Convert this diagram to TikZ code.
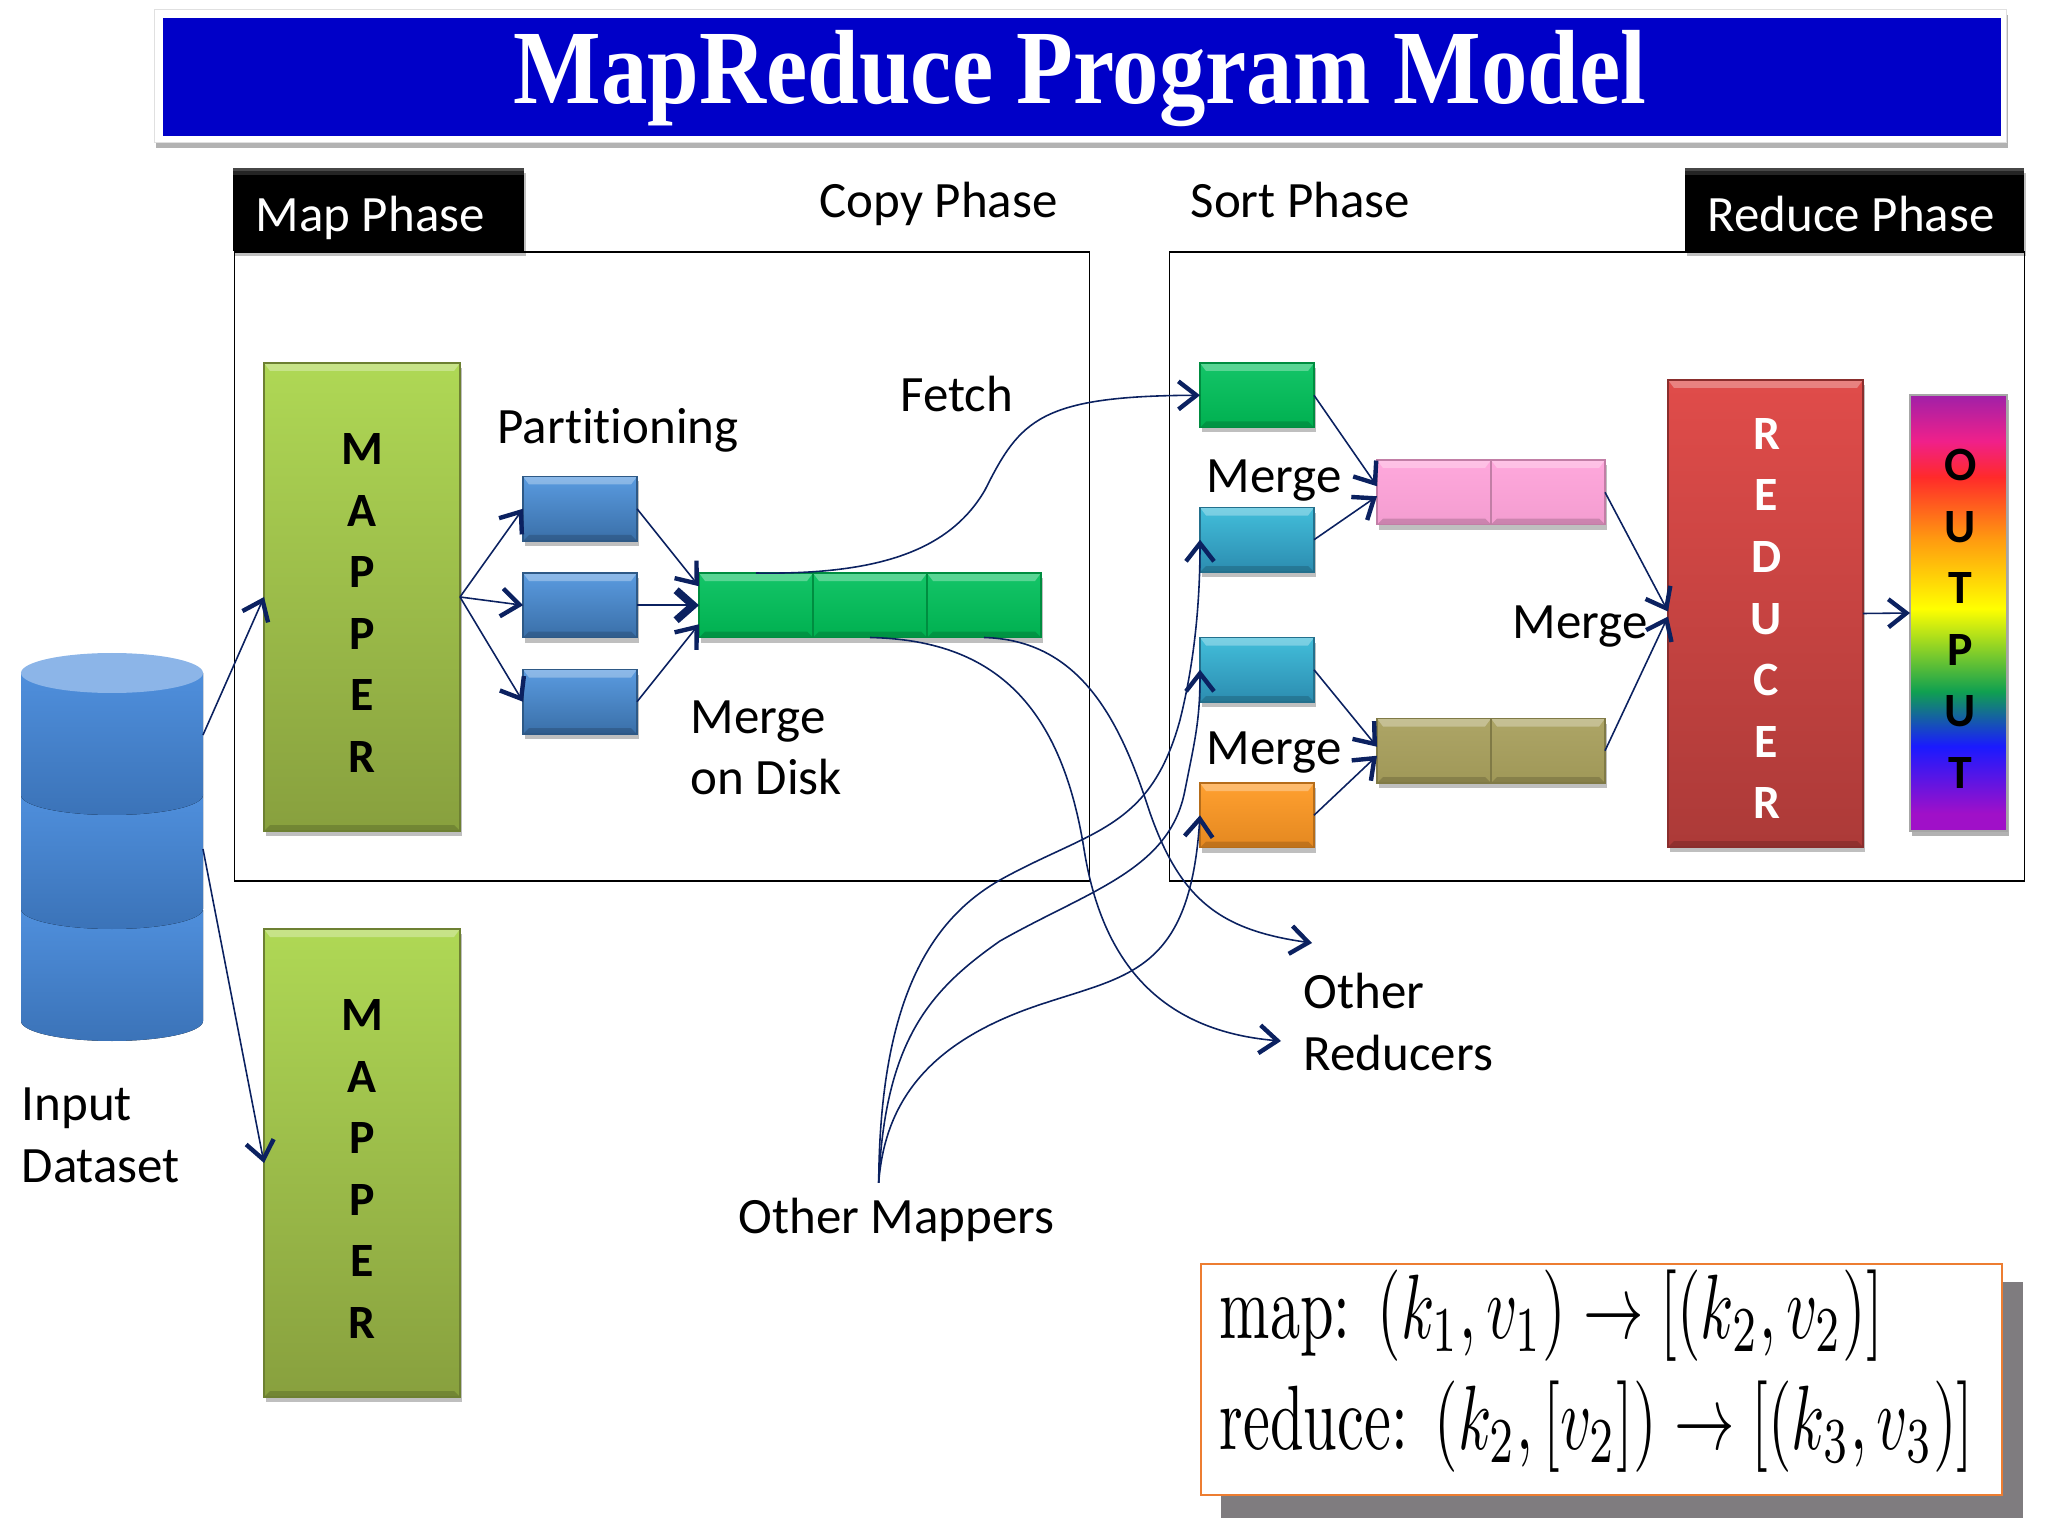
\documentclass[tikz,border=0pt]{standalone}
\usepackage{fontspec}
\setsansfont[Ligatures=NoCommon]{Carlito}
\newfontfamily\titlefont{Liberation Serif}
\usetikzlibrary{
	arrows.meta,shadows,positioning,calc
}
\definecolor{flownavy}{HTML}{0B2160}
\definecolor{rbbottom}{HTML}{A010C8}
\definecolor{rbblue}{HTML}{1A1AFF}
\definecolor{rbgreen}{HTML}{10A050}
\definecolor{rbyellow}{HTML}{FFFF00}
\definecolor{rborange}{HTML}{FF9A10}
\definecolor{rbred}{HTML}{FF2A2A}
\definecolor{rbpink}{HTML}{F0208A}
\definecolor{rbtop}{HTML}{A020A8}
\definecolor{mapA}{HTML}{AFD855}
\definecolor{mapB}{HTML}{88A03E}
\definecolor{partA}{HTML}{5A9BE0}
\definecolor{partB}{HTML}{3A6FA8}
\definecolor{dbA}{HTML}{4F8FDC}
\definecolor{dbB}{HTML}{3B73B8}
\definecolor{dbtop}{HTML}{8CB5E8}
\definecolor{greenA}{HTML}{14C568}
\definecolor{greenB}{HTML}{00B050}
\definecolor{cyanA}{HTML}{42BEDA}
\definecolor{cyanB}{HTML}{2C8CB0}
\definecolor{orangeA}{HTML}{FFA030}
\definecolor{orangeB}{HTML}{E48820}
\definecolor{pinkA}{HTML}{FFA8DC}
\definecolor{pinkB}{HTML}{F39DD0}
\definecolor{oliveA}{HTML}{ADA566}
\definecolor{oliveB}{HTML}{A09858}
\definecolor{redA}{HTML}{E04C4A}
\definecolor{redB}{HTML}{AC3A38}
\definecolor{titleblue}{HTML}{0000C8}
\definecolor{formulashade}{HTML}{7F7C7F}
\definecolor{formulaline}{HTML}{ED7D31}
\pgfdeclareverticalshading{rainbowband}{100bp}{
	color(0bp)=(rbbottom); color(27bp)=(rbbottom); color(34.7bp)=(rbblue); color(41bp)=(rbgreen);
	color(50.5bp)=(rbyellow); color(58.5bp)=(rborange); color(65.6bp)=(rbred); color(69.7bp)=(rbpink);
	color(75bp)=(rbtop); color(100bp)=(rbtop)
}
\tikzset{
	bevelbox/.style n args={2}{
		rectangle, inner sep=0pt, outer sep=0pt, line width=.3pt,
		draw=#2!80!black, top color=#1, bottom color=#2,
		drop shadow={shadow xshift=.02cm, shadow yshift=-.05cm, opacity=.25, fill=black},
		path picture={
			\fill[white, opacity=.3] (path picture bounding box.north west) -- (path picture bounding box.north east)
				-- ($(path picture bounding box.north east)+(-.06,-.08)$) -- ($(path picture bounding box.north west)+(.06,-.08)$) -- cycle;
			\fill[black, opacity=.16] (path picture bounding box.south west) -- (path picture bounding box.south east)
				-- ($(path picture bounding box.south east)+(-.06,.06)$) -- ($(path picture bounding box.south west)+(.06,.06)$) -- cycle;
		}
	},
	%
	mapbox/.style={
		bevelbox={mapA}{mapB}, minimum width=1.96cm, minimum height=4.68cm
	},
	%
	partbox/.style={
		bevelbox={partA}{partB}, minimum width=1.14cm, minimum height=.645cm
	},
	%
	cellbox/.style n args={2}{
		bevelbox={#1}{#2}, minimum width=1.14cm, minimum height=.645cm
	},
	%
	blackbox/.style={
		rectangle, inner sep=0pt, outer sep=0pt, fill=black, minimum height=.83cm,
		drop shadow={shadow xshift=.02cm, shadow yshift=-.05cm, opacity=.25, fill=black},
		path picture={
			\fill[black!72] (path picture bounding box.north west) rectangle ($(path picture bounding box.north east)+(0,-.03)$);
			\fill[black!86] ($(path picture bounding box.north west)+(0,-.03)$) rectangle ($(path picture bounding box.north east)+(0,-.07)$);
		}
	},
	%
	phaseframe/.style={
		rectangle, inner sep=0pt, draw=black, line width=.45pt, minimum height=6.29cm
	},
	%
	caption/.style={
		anchor=base west, inner sep=0pt, font=\sffamily\fontsize{14.5}{17.45}\selectfont, align=left
	},
	%
	letters/.style={
		inner sep=0pt, align=center, font=\sffamily\bfseries\fontsize{13.6}{17.5}\selectfont
	},
	%
	flow/.style={
		-{Straight Barb[length=.18cm, width=.28cm, line width=1.25pt]}, draw=flownavy, line width=.45pt
	},
	%
	heavyflow/.style={
		-{Straight Barb[length=.17cm, width=.3cm, line width=2.2pt]}, draw=flownavy, line width=.45pt
	},
	%
	dbpart/.style={
		top color=dbA, bottom color=dbB
	}
}
\begin{document}
\begin{tikzpicture}
    \useasboundingbox (0,0) rectangle (20.48,-15.36);
    \node(titleframe)[rectangle, anchor=north west, inner sep=0pt, fill=white, draw=black!12, minimum width=18.52cm, minimum height=1.33cm, drop shadow={shadow xshift=.01cm, shadow yshift=-.05cm, opacity=.3, fill=black}] at (1.54,-.09){};
    \node(titlebar)[rectangle, anchor=north west, inner sep=0pt, fill=titleblue, minimum width=18.38cm, minimum height=1.18cm] at (1.62,-.17){};
    \node(titletext)[anchor=base, inner sep=0pt, text=white, font=\titlefont\bfseries\fontsize{30}{34}\selectfont] at (10.8,-1.04){\scalebox{.88}[1]{MapReduce Program Model}};

    \node(mapframe)[phaseframe, anchor=north west, minimum width=8.55cm] at (2.335,-2.51){};
    \node(sortframe)[phaseframe, anchor=north west, minimum width=8.55cm] at (11.685,-2.51){};
    \node(mapphase)[blackbox, anchor=north west, minimum width=2.91cm] at (2.33,-1.68){};
    \node(reducephase)[blackbox, anchor=north west, minimum width=3.395cm] at (16.845,-1.68){};
    \node(maplabel)[caption, text=white] at (2.55,-2.32){Map Phase};
    \node(reducelabel)[caption, text=white] at (17.07,-2.32){Reduce Phase};
    \node(copylabel)[caption] at (8.19,-2.18){Copy Phase};
    \node(sortlabel)[caption] at (11.9,-2.18){Sort Phase};

    \fill[dbpart] (.21,-9.1) -- (.21,-10.21) arc[start angle=180, end angle=360, x radius=.91, y radius=.2] -- (2.03,-9.1) -- cycle;
    \fill[dbpart] (.21,-7.95) -- (.21,-9.09) arc[start angle=180, end angle=360, x radius=.91, y radius=.2] -- (2.03,-7.95) -- cycle;
    \fill[dbpart] (.21,-6.73) -- (.21,-7.95) arc[start angle=180, end angle=360, x radius=.91, y radius=.2] -- (2.03,-6.73) -- cycle;
    \fill[dbtop] (1.12,-6.73) ellipse[x radius=.91, y radius=.2];
    \coordinate(dbupper) at (2.03,-7.35);
    \coordinate(dblower) at (2.03,-8.49);
    \node(inputlabel)[caption] at (.21,-11.82){Input\\Dataset};

    \node(mapone)[mapbox, anchor=north west] at (2.64,-3.63){};
    \node(maponetext)[letters] at ($(mapone.center)+(0,-.06)$){M\\A\\P\\P\\E\\R};
    \node(maptwo)[mapbox, below=.98cm of mapone]{};
    \node(maptwotext)[letters] at ($(maptwo.center)+(0,-.06)$){M\\A\\P\\P\\E\\R};
    \node(partlabel)[caption] at (4.97,-4.44){Partitioning};

    \node(blueone)[partbox, anchor=north west] at (5.23,-4.765){};
    \node(bluetwo)[partbox, below=.32cm of blueone]{};
    \node(bluethree)[partbox, below=.32cm of bluetwo]{};
    \node(greenone)[cellbox={greenA}{greenB}, right=.62cm of bluetwo]{};
    \node(greentwo)[cellbox={greenA}{greenB}, right=0cm of greenone]{};
    \node(greenthree)[cellbox={greenA}{greenB}, right=0cm of greentwo]{};
    \node(fetchlabel)[caption] at (9.0,-4.12){Fetch};
    \node(disklabel)[caption] at (6.9,-7.95){Merge\\on Disk};

    \node(sortgreen)[cellbox={greenA}{greenB}, anchor=north west] at (12,-3.63){};
    \node(cyanone)[cellbox={cyanA}{cyanB}, below=.8cm of sortgreen]{};
    \node(cyantwo)[cellbox={cyanA}{cyanB}, below=.655cm of cyanone]{};
    \node(orangebox)[cellbox={orangeA}{orangeB}, below=.81cm of cyantwo]{};
    \node(pinkone)[cellbox={pinkA}{pinkB}, anchor=north west] at (13.77,-4.6){};
    \node(pinktwo)[cellbox={pinkA}{pinkB}, right=0cm of pinkone]{};
    \node(oliveone)[cellbox={oliveA}{oliveB}, below=1.94cm of pinkone]{};
    \node(olivetwo)[cellbox={oliveA}{oliveB}, right=0cm of oliveone]{};
    \node(mergeone)[caption] at (12.06,-4.93){Merge};
    \node(mergetwo)[caption] at (12.06,-7.65){Merge};
    \node(mergethree)[caption] at (15.12,-6.38){Merge};

    \node(reducer)[bevelbox={redA}{redB}, anchor=north west, minimum width=1.95cm, minimum height=4.67cm] at (16.68,-3.8){};
    \node(reducertext)[letters, text=white] at ($(reducer.center)+(.01,-.05)$){R\\E\\D\\U\\C\\E\\R};
    \node(outputbox)[rectangle, inner sep=0pt, outer sep=0pt, anchor=north west, minimum width=.97cm, minimum height=4.36cm, shading=rainbowband, draw=black!35, line width=.3pt, drop shadow={shadow xshift=.02cm, shadow yshift=-.05cm, opacity=.3, fill=black}] at (19.1,-3.95){};
    \node(outputtext)[letters] at ($(outputbox.center)+(.02,-.06)$){O\\U\\T\\P\\U\\T};

    \draw[flow] (dbupper) -- (mapone.west);
    \draw[flow] (dblower) -- (maptwo.west);
    \draw[flow] (mapone.east) -- (blueone.west);
    \draw[flow] (mapone.east) -- (bluetwo.west);
    \draw[flow] (mapone.east) -- (bluethree.west);
    \draw[flow] (blueone.east) -- ($(greenone.west)+(0,.19)$);
    \draw[heavyflow] (bluetwo.east) -- (greenone.west);
    \draw[flow] (bluethree.east) -- ($(greenone.west)+(0,-.19)$);
    \draw[flow] (greenone.north) .. controls (8.8,-5.75) and (9.5,-5.5) .. (9.85,-4.9) .. controls (10.2,-4.2) and (10.4,-3.96) .. (sortgreen.west);

    \draw[flow] (sortgreen.east) -- ($(pinkone.west)+(0,.06)$);
    \draw[flow] (cyanone.east) -- ($(pinkone.west)+(0,-.04)$);
    \draw[flow] (cyantwo.east) -- ($(oliveone.west)+(0,.04)$);
    \draw[flow] (orangebox.east) -- ($(oliveone.west)+(0,-.05)$);
    \draw[flow] (pinktwo.east) -- ($(reducer.west)+(0,.02)$);
    \draw[flow] (olivetwo.east) -- ($(reducer.west)+(0,-.03)$);
    \draw[flow] (reducer.east) -- (outputbox.west);

    \node(otherreducers)[caption] at (13.03,-10.7){Other\\Reducers};
    \coordinate(reducerone) at (12.81,-10.41);
    \coordinate(reducertwo) at (13.12,-9.43);
    \draw[flow] (greentwo.south) .. controls (9.9,-6.4) and (10.6,-7.0) .. (10.84,-8.49) .. controls (11,-9.5) and (11.5,-10.3) .. (reducerone);
    \draw[flow] (greenthree.south) .. controls (10.8,-6.4) and (11.2,-7.2) .. (11.49,-8.1) .. controls (11.8,-9.0) and (12.2,-9.3) .. (reducertwo);

    \node(othermappers)[caption] at (7.38,-12.33){Other Mappers};
    \draw[flow] ($(othermappers.north)+(-.18,.14)$) .. controls (8.8,-10) and (9.3,-9.2) .. (10,-8.8) .. controls (10.9,-8.3) and (11.5,-8.3) .. (11.8,-7.2) .. controls (11.95,-6.6) and (12,-6) .. (cyanone.west);
    \draw[flow] ($(othermappers.north)+(-.18,.14)$) .. controls (8.85,-10.4) and (9.3,-9.9) .. (10,-9.41) .. controls (10.9,-8.9) and (11.7,-8.7) .. (11.85,-7.9) .. controls (11.95,-7.4) and (12,-7.2) .. (cyantwo.west);
    \draw[flow] ($(othermappers.north)+(-.18,.14)$) .. controls (8.85,-11) and (9.3,-10.4) .. (10.45,-10.03) .. controls (11.3,-9.75) and (11.9,-9.7) .. (orangebox.west);

    \fill[formulashade] (12.21,-12.82) rectangle (20.23,-15.18);
    \node(formulabox)[rectangle, anchor=north west, inner sep=0pt, fill=white, draw=formulaline, line width=.6pt, minimum width=8.01cm, minimum height=2.31cm] at (12,-12.63){};
    \node(mapformula)[anchor=base west, inner sep=0pt] at (12.19,-13.38){\scalebox{1.72}[2.6]{map: $(k_1,v_1)\to[(k_2,v_2)]$}};
    \node(reduceformula)[anchor=base west, inner sep=0pt] at (12.19,-14.49){\scalebox{1.72}[2.6]{reduce: $(k_2,[v_2])\to[(k_3,v_3)]$}};
\end{tikzpicture}
\end{document}
